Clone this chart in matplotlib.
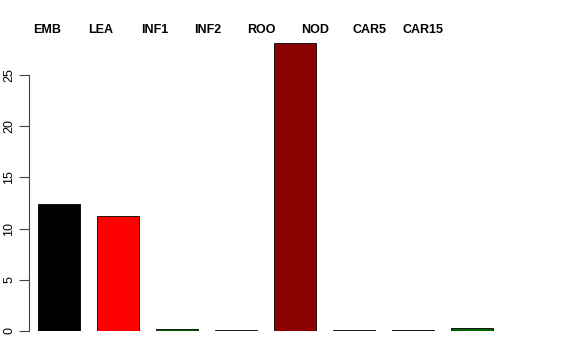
import matplotlib
matplotlib.use("Agg")
import matplotlib.pyplot as plt

tissues = ["EMB", "LEA", "INF1", "INF2", "ROO", "NOD", "CAR5", "CAR15"]
values = [12.4, 11.2, 0.15, 0.05, 28.1, 0.05, 0.12, 0.3]
colors = ["black", "red", "darkgreen", "grey", "darkred", "grey", "navy", "darkgreen"]
yticks = [0, 5, 10, 15, 20, 25]

plt.rcParams["font.family"] = ["Liberation Sans", "DejaVu Sans"]
fig = plt.figure(figsize=(5.76, 3.6), dpi=100)
# axes placed in pixels: left spine at x=29, y=0 at 331, top at 43
ax = fig.add_axes([29 / 576, (360 - 331) / 360, (560 - 29) / 576, (331 - 43) / 360])

x = list(range(len(tissues)))
ax.bar(x, values, width=42 / 59, color=colors, edgecolor="black", linewidth=0.6)
ax.set_xlim(-30 / 59, (560 - 59) / 59)
ax.set_ylim(0, 28.1)

for s in ["top", "right", "bottom"]:
    ax.spines[s].set_visible(False)
ax.spines["left"].set_bounds(0, 25)
ax.spines["left"].set_color("#444444")
ax.spines["left"].set_linewidth(0.8)
ax.set_xticks([])
ax.set_yticks(yticks)
ax.set_yticklabels([str(v) for v in yticks], rotation=90, va="center", fontsize=9)
ax.tick_params(axis="y", length=7, width=0.8, color="#444444", pad=3)

# labels along the top
for i, name in enumerate(tissues):
    ax.text(-0.203 + 0.910 * i, 29.4, name, ha="center", va="center",
            fontsize=9, fontweight="bold", clip_on=False)

fig.savefig("out.png", dpi=100)
